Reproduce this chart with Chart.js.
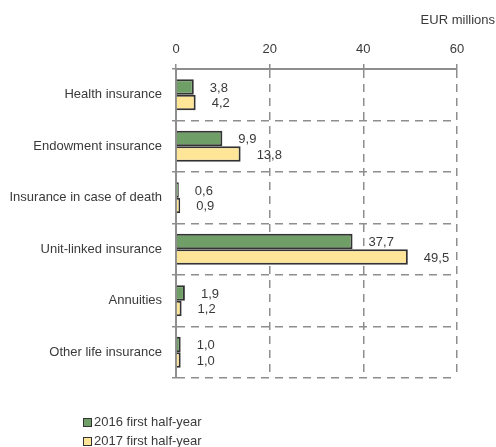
<!DOCTYPE html>
<html lang="en">
<head>
<meta charset="UTF-8">
<title>Life insurance premiums</title>
<script src="https://cdn.jsdelivr.net/npm/chart.js"></script>
<style>
    body { margin: 0; background: #fff; font-family: "Liberation Sans", Arial, sans-serif; }
    .wrap { position: relative; width: 496px; height: 447px; }
    #grafico { position: absolute; left: 0; top: 0; }
    .legenda { position: absolute; left: 83px; top: 412px; font-size: 13px; color: #3a3a3a; }
    .legenda div { height: 19px; line-height: 19px; white-space: nowrap; }
    .legenda span { display: inline-block; width: 7px; height: 7px; border: 1.5px solid #333; margin-right: 2px; vertical-align: -1px; }
</style>
</head>
<body>
<div class="wrap">
    <canvas id="grafico" width="496" height="447"></canvas>
    <div class="legenda" id="legenda"></div>
</div>
<script>
const categorias = ['Health insurance', 'Endowment insurance', 'Insurance in case of death', 'Unit-linked insurance', 'Annuities', 'Other life insurance'];
const serie2016 = [3.8, 9.9, 0.6, 37.7, 1.9, 1.0];
const serie2017 = [4.2, 13.8, 0.9, 49.5, 1.2, 1.0];
const nomesSeries = ['2016 first half-year', '2017 first half-year'];
const coresSeries = ['#6f9f67', '#fee597'];
const ticksX = [0, 20, 40, 60];
const unidade = 'EUR millions';

const corTexto = '#3a3a3a';
const corGrade = '#8e8e8e';

// valores com virgula decimal
function fmt(v) {
    return v.toFixed(1).replace('.', ',');
}

const rotulos = {
    id: 'rotulos',
    afterDatasetsDraw(chart) {
        const ctx = chart.ctx;
        ctx.save();
        ctx.font = '13px "Liberation Sans", Arial, sans-serif';
        ctx.fillStyle = corTexto;
        ctx.textAlign = 'left';
        ctx.textBaseline = 'middle';
        chart.data.datasets.forEach(function (ds, i) {
            chart.getDatasetMeta(i).data.forEach(function (bar, j) {
                ctx.fillText(fmt(ds.data[j]), bar.x + 16, bar.y + 1);
            });
        });
        // unidade no canto superior direito
        ctx.textAlign = 'right';
        ctx.fillText(unidade, 495, 20);
        ctx.restore();
    }
};

let myChart = new Chart(document.getElementById('grafico'), {
    type: 'bar',
    data: {
        labels: categorias,
        datasets: [
            { label: nomesSeries[0], data: serie2016, backgroundColor: coresSeries[0] },
            { label: nomesSeries[1], data: serie2017, backgroundColor: coresSeries[1] }
        ]
    },
    options: {
        indexAxis: 'y',
        responsive: false,
        animation: false,
        layout: { padding: { top: 0, left: 0, right: 39, bottom: 69 } },
        datasets: {
            bar: {
                borderColor: '#333',
                borderWidth: 2,
                categoryPercentage: 0.6,
                barPercentage: 1
            }
        },
        plugins: {
            legend: { display: false },
            tooltip: { enabled: false }
        },
        scales: {
            x: {
                position: 'top',
                min: 0,
                max: 60,
                afterFit: function (s) { s.height = 69; },
                afterBuildTicks: function (s) { s.ticks = ticksX.map(v => ({ value: v })); },
                ticks: {
                    color: corTexto,
                    font: { size: 13, family: '"Liberation Sans", Arial, sans-serif' },
                    padding: 7
                },
                grid: { color: corGrade, lineWidth: 1.5, tickLength: 5, tickColor: corGrade },
                border: { color: corGrade, width: 2, dash: [8, 6] }
            },
            y: {
                afterFit: function (s) { s.width = 176; },
                ticks: {
                    color: corTexto,
                    font: { size: 13, family: '"Liberation Sans", Arial, sans-serif' },
                    padding: 10
                },
                grid: { color: corGrade, lineWidth: 1.5, tickLength: 4, tickColor: corGrade },
                border: { color: corGrade, width: 2, dash: [8, 6] }
            }
        }
    },
    plugins: [rotulos]
});

// legenda em lista vertical
const legenda = document.getElementById('legenda');
nomesSeries.forEach(function (nome, i) {
    const linha = document.createElement('div');
    const caixa = document.createElement('span');
    caixa.style.background = coresSeries[i];
    linha.appendChild(caixa);
    linha.appendChild(document.createTextNode(nome));
    legenda.appendChild(linha);
});
</script>
</body>
</html>
